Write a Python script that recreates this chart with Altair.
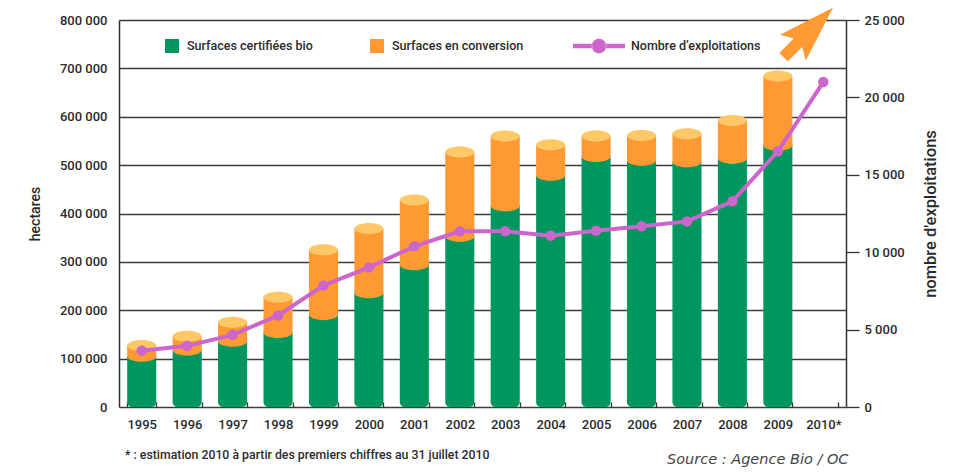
import altair as alt
import pandas as pd

# ---- data ----
years = ["1995", "1996", "1997", "1998", "1999", "2000", "2001", "2002",
         "2003", "2004", "2005", "2006", "2007", "2008", "2009", "2010*"]
bar_years = years[:15]
certifiees = [105000, 118000, 136000, 154000, 191000, 236000, 294000, 353000,
              416000, 479000, 518000, 510000, 507000, 514000, 541000]
totales = [127000, 146000, 175000, 227000, 325000, 369000, 428000, 527000,
           560000, 542000, 560000, 561000, 565000, 592000, 684000]
exploitations = [3640, 3950, 4660, 5910, 7850, 9020, 10380, 11350,
                 11350, 11070, 11390, 11670, 11990, 13290, 16520, 20990]
arrow_year = ["2010*"]
arrow_level = [24200]

lab_cert = "Surfaces certifiées bio"
lab_conv = "Surfaces en conversion"
lab_nb = "Nombre d’exploitations"
left_title = "hectares"
right_title = "nombre d'exploitations"
note = "* :  estimation 2010 à partir des premiers chiffres au 31 juillet 2010"
source = "Source : Agence Bio / OC"

hect_ticks = [0, 100000, 200000, 300000, 400000, 500000, 600000, 700000, 800000]
nb_ticks = [0, 5000, 10000, 15000, 20000, 25000]

# ---- tables ----
df_cert = pd.DataFrame({"annee": bar_years, "lo": [0] * 15, "hi": certifiees,
                        "type": [lab_cert] * 15})
df_conv = pd.DataFrame({"annee": bar_years, "lo": certifiees, "hi": totales,
                        "type": [lab_conv] * 15})
df_exp = pd.DataFrame({"annee": years, "nb": exploitations,
                       "serie": [lab_nb] * len(years)})
df_arrow = pd.DataFrame({"annee": arrow_year, "nb": arrow_level})
df_note = pd.DataFrame({"t": [note]})
df_src = pd.DataFrame({"t": [source]})

FONT = "Roboto, Liberation Sans, Arial, sans-serif"
FW = 500
TXT = "#2b2b2b"
GREEN = "#00965e"
ORANGE = "#ff9933"
CAP = "#ffc866"
PURPLE = "#cc66cc"

ELLIPSE = "M-1,0 A1,0.38 0 1,0 1,0 A1,0.38 0 1,0 -1,0 Z"
ARROW = ("M1,0 L-0.62,-0.52 L-0.42,-0.17 L-1,-0.17 L-1,0.17 "
         "L-0.42,0.17 L-0.62,0.52 Z")
LEG_LINE = ("M-1,-0.09 L-0.26,-0.09 L-0.26,0.09 L-1,0.09 Z "
            "M0.26,-0.09 L1,-0.09 L1,0.09 L0.26,0.09 Z "
            "M-0.28,0 A0.28,0.28 0 1,0 0.28,0 A0.28,0.28 0 1,0 -0.28,0 Z")

x_axis = alt.Axis(title=None, domain=False, ticks=True, tickBand="extent",
                  tickSize=5, tickWidth=1.3, tickColor="#333", offset=-5,
                  labelPadding=11, labelFont=FONT, labelFontSize=13,
                  labelFontWeight=FW, labelColor=TXT, labelAngle=0, grid=False)
x_enc = alt.X("annee:N", sort=years,
              scale=alt.Scale(domain=years, paddingInner=0.36, paddingOuter=0.18),
              axis=x_axis)

fmt = "replace(format(datum.value, ','), ',', ' ')"
left_axis = alt.Axis(title=left_title, values=hect_ticks, grid=True,
                     gridColor="#3c3c3c", gridWidth=1.3, gridOpacity=1,
                     domain=True, domainColor="#333", domainWidth=1.5,
                     ticks=False, labelPadding=12, labelExpr=fmt,
                     labelFont=FONT, labelFontSize=13, labelFontWeight=FW,
                     labelColor=TXT,
                     titleFont=FONT, titleFontSize=14, titleFontWeight=FW,
                     titleColor=TXT, titlePadding=17)
hect_scale = alt.Scale(domain=[0, 800000], nice=False)

right_axis = alt.Axis(title=right_title, orient="right", values=nb_ticks,
                      grid=False, domain=True, domainColor="#333",
                      domainWidth=1.5, ticks=True, tickSize=13, tickWidth=1.3,
                      tickColor="#333", labelPadding=5, labelExpr=fmt,
                      labelFont=FONT, labelFontSize=13, labelFontWeight=FW,
                      labelColor=TXT,
                      titleFont=FONT, titleFontSize=16.5,
                      titleFontWeight=FW, titleColor=TXT,
                      titleAngle=270, titleBaseline="top", titlePadding=18)
nb_scale = alt.Scale(domain=[0, 25000], nice=False)

color_bars = alt.Color(
    "type:N",
    scale=alt.Scale(domain=[lab_cert, lab_conv], range=[GREEN, ORANGE]),
    legend=alt.Legend(orient="none", legendX=46, legendY=19,
                      direction="horizontal", title=None, symbolType="square",
                      symbolSize=196, symbolStrokeWidth=0, symbolOpacity=1,
                      labelOffset=8, columnPadding=57, labelFont=FONT,
                      labelFontSize=12.5, labelFontWeight=FW, labelColor=TXT,
                      labelLimit=0, padding=0))

green = alt.Chart(df_cert).mark_bar(
    cornerRadiusBottomLeft=5, cornerRadiusBottomRight=5).encode(
    x=x_enc,
    y=alt.Y("hi:Q", scale=hect_scale, axis=left_axis),
    y2="lo:Q",
    color=color_bars)

orange = alt.Chart(df_conv).mark_bar().encode(
    x=x_enc,
    y=alt.Y("hi:Q", scale=hect_scale, axis=left_axis),
    y2="lo:Q",
    color=color_bars)

join = alt.Chart(df_conv).mark_point(
    shape=ELLIPSE, filled=True, size=847, color=ORANGE, opacity=1,
    strokeWidth=0).encode(
    x=x_enc, y=alt.Y("lo:Q", scale=hect_scale, axis=left_axis))

cap = alt.Chart(df_conv).mark_point(
    shape=ELLIPSE, filled=True, size=847, color=CAP, opacity=1,
    strokeWidth=0).encode(
    x=x_enc, y=alt.Y("hi:Q", scale=hect_scale, axis=left_axis))

note_txt = alt.Chart(df_note).mark_text(
    align="left", baseline="middle", font=FONT, fontSize=12.3,
    fontWeight=FW, color=TXT).encode(
    x=alt.value(6), y=alt.value(435), text="t:N")

src_txt = alt.Chart(df_src).mark_text(
    align="left", baseline="middle", font="DejaVu Sans", fontSize=14.5,
    fontStyle="italic", color="#444").encode(
    x=alt.value(548), y=alt.value(440), text="t:N")

layer_a = alt.layer(green, orange, join, cap, note_txt, src_txt)

line = alt.Chart(df_exp).mark_line(color=PURPLE, strokeWidth=4).encode(
    x=x_enc, y=alt.Y("nb:Q", scale=nb_scale, axis=right_axis))

dots = alt.Chart(df_exp).mark_circle(size=110, opacity=1).encode(
    x=x_enc, y=alt.Y("nb:Q", scale=nb_scale, axis=right_axis),
    color=alt.Color(
        "serie:N", scale=alt.Scale(domain=[lab_nb], range=[PURPLE]),
        legend=alt.Legend(orient="none", legendX=454, legendY=0, title=None,
                          symbolType=LEG_LINE, symbolSize=2704,
                          symbolStrokeWidth=0, symbolOpacity=1,
                          labelOffset=6, labelFont=FONT, labelFontSize=12.5,
                          labelFontWeight=FW, labelColor=TXT, labelLimit=0,
                          padding=0)))

arrow = alt.Chart(df_arrow).mark_point(
    shape=ARROW, filled=True, size=4900, angle=315, xOffset=-15,
    color=ORANGE, opacity=1, strokeWidth=0).encode(
    x=x_enc, y=alt.Y("nb:Q", scale=nb_scale, axis=right_axis))

layer_b = alt.layer(line, dots, arrow)

chart = alt.layer(layer_a, layer_b).resolve_scale(
    y="independent", color="independent").properties(
    width=727, height=387,
    autosize=alt.AutoSizeParams(type="none"),
    padding={"left": 111, "top": 12, "right": 95, "bottom": 62},
    background="white",
).configure_view(stroke=None)

chart.save("out.html", embed_options={"renderer": "svg", "actions": False})
